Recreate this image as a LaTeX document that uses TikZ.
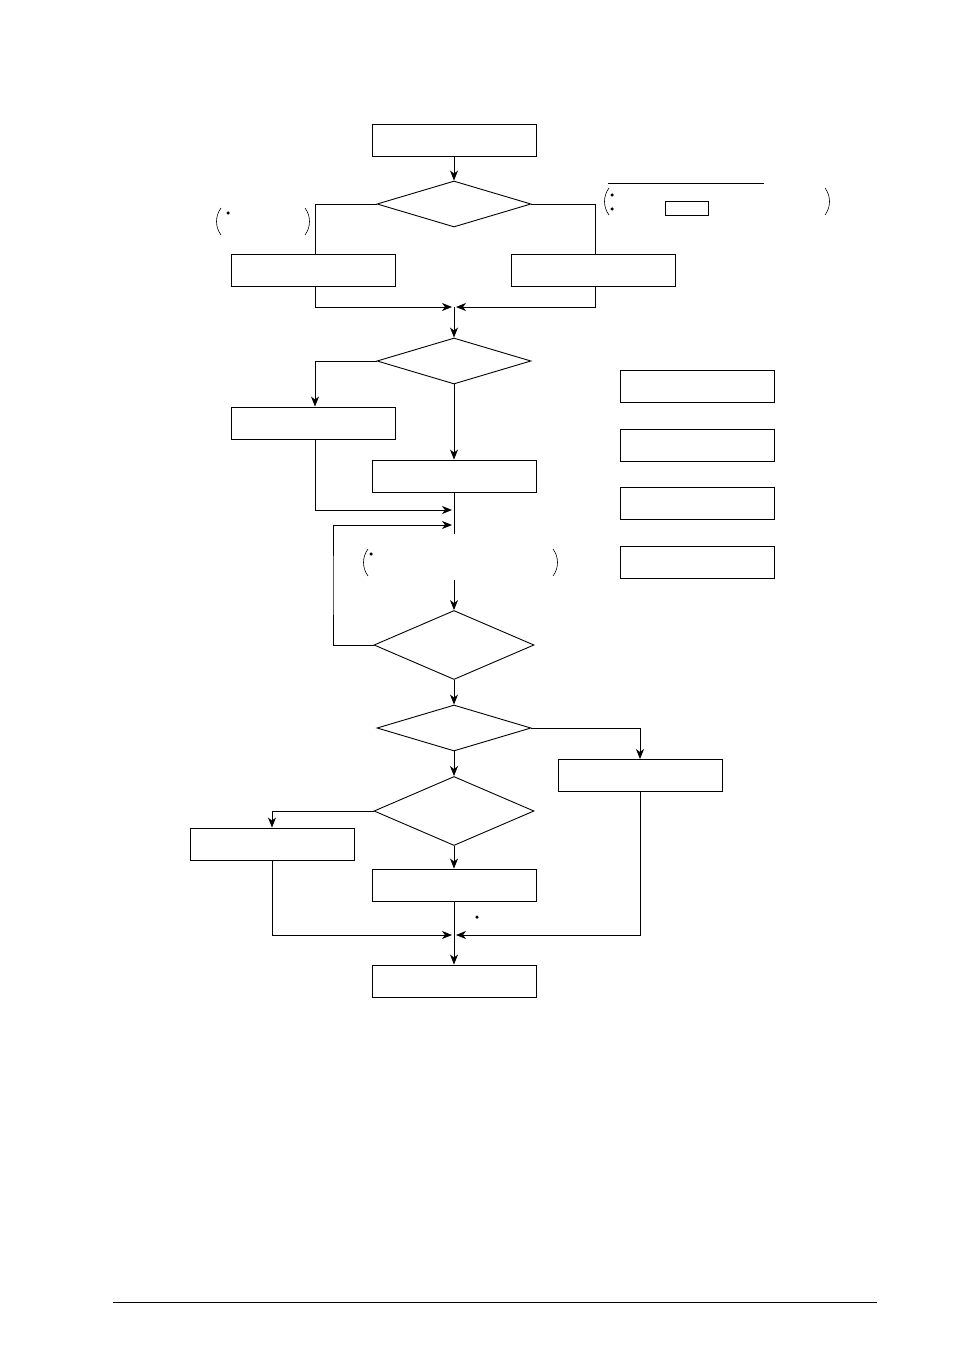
\documentclass[tikz,border=0pt]{standalone}
\usetikzlibrary{shapes.geometric,arrows.meta}
\begin{document}
\begin{tikzpicture}[x=1bp,y=-1bp,line width=0.9bp,
  box/.style={draw,rectangle,inner sep=0,minimum width=164bp,minimum height=32bp},
  sbox/.style={draw,rectangle,inner sep=0,minimum width=154bp,minimum height=32bp},
  dia/.style={draw,diamond,inner sep=0,minimum width=154bp,minimum height=46bp},
  bdia/.style={draw,diamond,inner sep=0,minimum width=160bp,minimum height=69bp},
  arr/.style={-{Stealth[length=10bp,width=8bp,inset=3bp]}},
  par/.style={line width=0.6bp},
  dotm/.style={fill,circle,inner sep=0,minimum size=3.5bp}]
\useasboundingbox (0,0) rectangle (954,1351);
% main column
\node[box] (b1) at (454,140) {};
\node[dia] (d1) at (454,204) {};
\node[box] (bL) at (313,270.5) {};
\node[box] (bR) at (593.5,270.5) {};
\node[dia] (d2) at (454,361) {};
\node[box] (b3) at (313,423) {};
\node[box] (b4) at (454,476) {};
\node[bdia] (d3) at (454,645) {};
\node[dia] (d4) at (454,728) {};
\node[box] (b5) at (640,775.5) {};
\node[bdia] (d5) at (454,811) {};
\node[box] (b6) at (272,844) {};
\node[box] (b7) at (454,885) {};
\node[box] (b8) at (454,981) {};
% right boxes
\node[sbox] (r1) at (697,386) {};
\node[sbox] (r2) at (697,445) {};
\node[sbox] (r3) at (697,503.5) {};
\node[sbox] (r4) at (697,562) {};
% coordinates
\coordinate (j1) at (454,307);
\coordinate (m1l) at (452,307);
\coordinate (m1r) at (456,307);
\coordinate (m2) at (452,510);
\coordinate (m3) at (452,525);
\coordinate (lp) at (333,585);
\coordinate (gt) at (454,534);
\coordinate (gb) at (454,580);
\coordinate (m4l) at (452,935);
\coordinate (m4r) at (456,935);
% connectors
\draw[arr] (b1.south) -- (d1.north);
\draw (d1.west) -| ([xshift=2bp]bL.north);
\draw (d1.east) -| ([xshift=1.5bp]bR.north);
\draw[arr] ([xshift=2bp]bL.south) |- (m1l);
\draw[arr] ([xshift=1.5bp]bR.south) |- (m1r);
\draw[arr] (j1) -- (d2.north);
\draw[arr] (d2.west) -| ([xshift=2bp]b3.north);
\draw[arr] (d2.south) -- (b4.north);
\draw (b4.south) -- (gt);
\draw[arr] ([xshift=2bp]b3.south) |- (m2);
\draw[arr] (d3.west) -| (lp) |- (m3);
\draw[arr] (gb) -- (d3.north);
\draw[arr] (d3.south) -- (d4.north);
\draw[arr] (d4.east) -| (b5.north);
\draw[arr] (d4.south) -- (d5.north);
\draw[arr] (d5.west) -| (b6.north);
\draw[arr] (d5.south) -- (b7.north);
\draw[arr] (b7.south) -- (b8.north);
\draw[arr] (b6.south) |- (m4l);
\draw[arr] (b5.south) |- (m4r);
% annotations: top right
\draw[line width=0.8bp] (608,183) -- (764,183);
\draw[par] (609,188) .. controls (603,196) and (603,207) .. (609,215);
\draw[par] (825,188) .. controls (831,196) and (831,207) .. (825,215);
\node[dotm] (t1) at (612,195) {};
\node[dotm] (t2) at (612,209) {};
\node[draw,rectangle,inner sep=0,minimum width=43bp,minimum height=14bp,line width=0.8bp] (tb) at (686.5,208) {};
% left annotation
\draw[par] (221,208) .. controls (215,216) and (215,227) .. (221,235);
\draw[par] (305,208) .. controls (311,216) and (311,227) .. (305,235);
\node[dotm] (l1) at (228,213) {};
% middle annotation
\draw[par] (368,549) .. controls (362,557) and (362,568) .. (368,576);
\draw[par] (553,549) .. controls (559,557) and (559,568) .. (553,576);
\node[dotm] (c1) at (371,554) {};
% dot near merge
\node[dotm] (c2) at (477,917) {};
% footer line
\draw[line width=0.7bp] (113,1302) -- (877,1302);
\end{tikzpicture}
\end{document}
